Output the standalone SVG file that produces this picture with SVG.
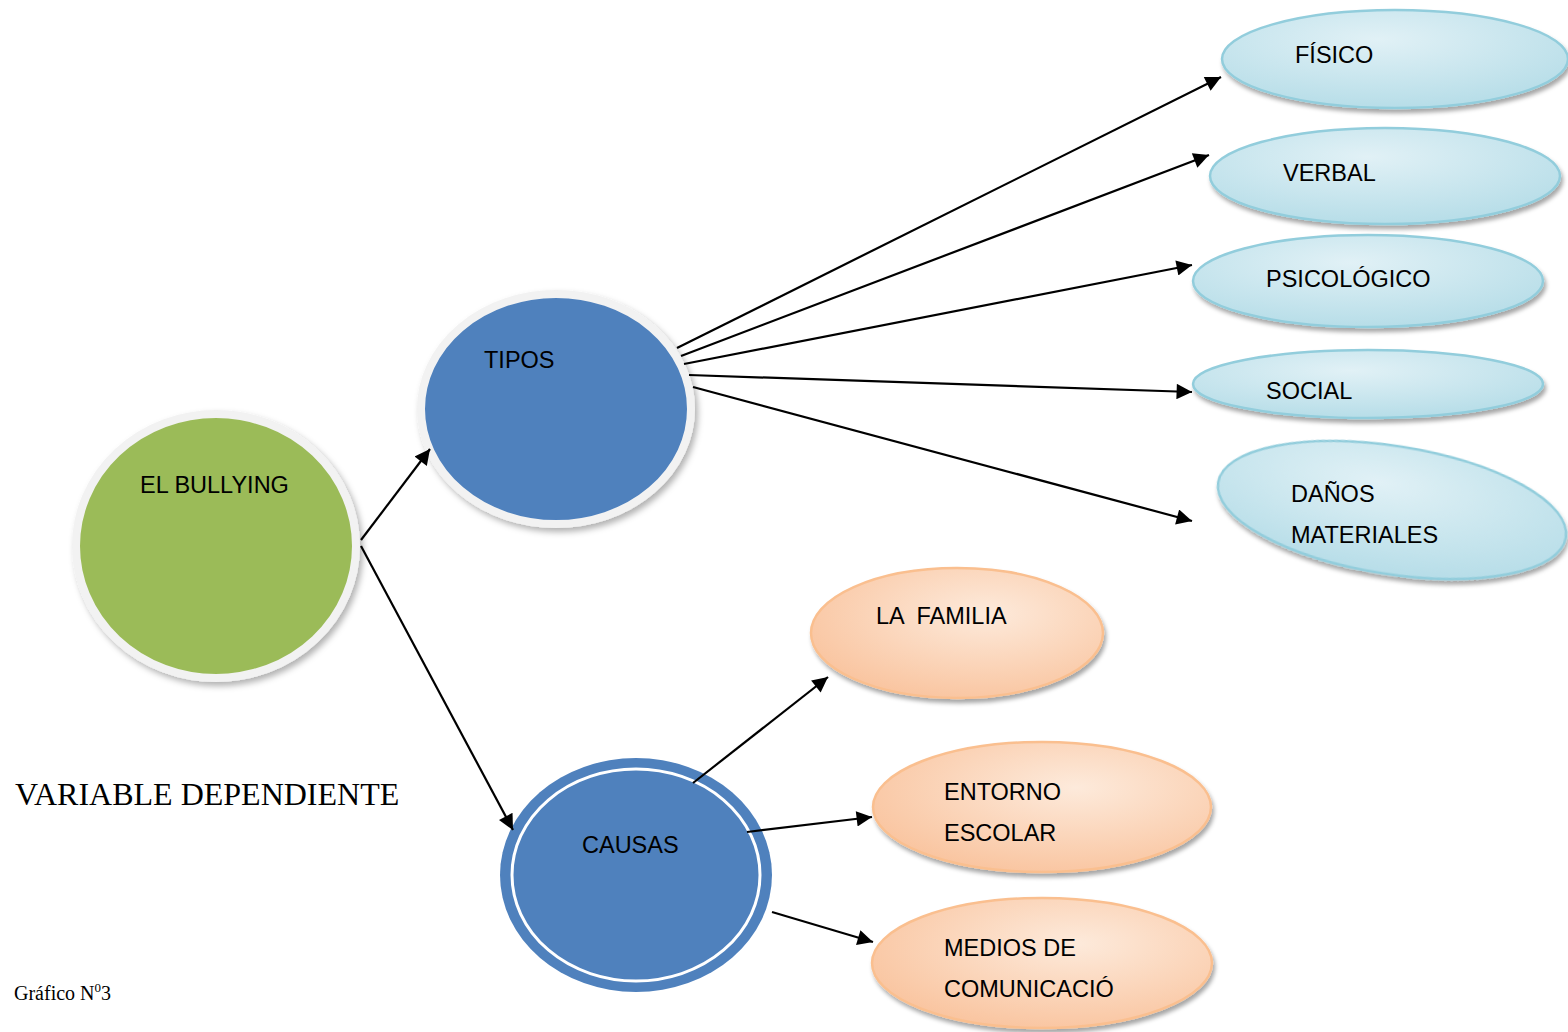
<svg xmlns="http://www.w3.org/2000/svg" width="1568" height="1032" viewBox="0 0 1568 1032">
<style>
.lbl{font-family:"Liberation Sans",Arial,sans-serif;font-size:23.5px;fill:#000}
.conn line{stroke:#000;stroke-width:2.2;marker-end:url(#ah)}
.blue{fill:url(#gBlue);stroke:#92cddc;stroke-width:2.5;filter:url(#sh)}
.orange{fill:url(#gOr);stroke:#fabf8f;stroke-width:2.5;filter:url(#sh)}
</style>
<defs>
<marker id="ah" viewBox="0 0 10 10" refX="10" refY="5" markerWidth="8" markerHeight="7" markerUnits="strokeWidth" orient="auto">
<path d="M0,0 L10,5 L0,10 z" fill="#000"/>
</marker>
<radialGradient id="gBlue" cx="0.45" cy="0.3" r="0.75">
<stop offset="0" stop-color="#e1f1f6"/>
<stop offset="1" stop-color="#b4dce7"/>
</radialGradient>
<radialGradient id="gOr" cx="0.6" cy="0.35" r="0.75">
<stop offset="0" stop-color="#fdeadb"/>
<stop offset="1" stop-color="#f9c19a"/>
</radialGradient>
<filter id="sh" x="-10%" y="-10%" width="125%" height="135%">
<feDropShadow dx="2" dy="4" stdDeviation="2" flood-color="#000" flood-opacity="0.35"/>
</filter>
<filter id="sh2" x="-10%" y="-10%" width="125%" height="130%">
<feDropShadow dx="3" dy="4" stdDeviation="3" flood-color="#000" flood-opacity="0.3"/>
</filter>
</defs>
<rect width="1568" height="1032" fill="#fff"/>

<g id="n-bullying">
<ellipse cx="216" cy="546" rx="140" ry="132" fill="#9bbb59" stroke="#f2f2f2" stroke-width="8" filter="url(#sh2)"/>
<text class="lbl" x="140" y="493">EL BULLYING</text>
</g>

<g id="n-tipos">
<ellipse cx="556" cy="409" rx="135" ry="115" fill="#4f81bd" stroke="#f2f2f2" stroke-width="8" filter="url(#sh2)"/>
<text class="lbl" x="484" y="368">TIPOS</text>
</g>

<g id="n-causas">
<ellipse cx="636" cy="875" rx="136" ry="117" fill="#4f81bd"/>
<ellipse cx="636" cy="875" rx="124" ry="106" fill="none" stroke="#fff" stroke-width="3"/>
<text class="lbl" x="582" y="853">CAUSAS</text>
</g>

<g id="n-fisico">
<ellipse class="blue" cx="1395" cy="59" rx="173" ry="49"/>
<text class="lbl" x="1295" y="63">FÍSICO</text>
</g>
<g id="n-verbal">
<ellipse class="blue" cx="1385" cy="176" rx="175" ry="48"/>
<text class="lbl" x="1283" y="181">VERBAL</text>
</g>
<g id="n-psico">
<ellipse class="blue" cx="1368" cy="281" rx="175" ry="46"/>
<text class="lbl" x="1266" y="287">PSICOLÓGICO</text>
</g>
<g id="n-social">
<ellipse class="blue" cx="1368" cy="384" rx="175" ry="34"/>
<text class="lbl" x="1266" y="399">SOCIAL</text>
</g>
<g id="n-danos">
<ellipse class="blue" cx="1392" cy="510" rx="176" ry="64" transform="rotate(9 1392 510)"/>
<text class="lbl" x="1291" y="502">DAÑOS</text>
<text class="lbl" x="1291" y="543">MATERIALES</text>
</g>

<g id="n-familia">
<ellipse class="orange" cx="957" cy="633" rx="146" ry="65"/>
<text class="lbl" x="876" y="624" xml:space="preserve">LA  FAMILIA</text>
</g>
<g id="n-entorno">
<ellipse class="orange" cx="1042" cy="807" rx="169" ry="65"/>
<text class="lbl" x="944" y="800">ENTORNO</text>
<text class="lbl" x="944" y="841">ESCOLAR</text>
</g>
<g id="n-medios">
<ellipse class="orange" cx="1042" cy="963" rx="170" ry="65"/>
<text class="lbl" x="944" y="956">MEDIOS DE</text>
<text class="lbl" x="944" y="997">COMUNICACIÓ</text>
</g>

<g id="conn" class="conn">
<line x1="361" y1="540" x2="430" y2="449"/>
<line x1="361" y1="546" x2="513" y2="830"/>
<line x1="677" y1="348" x2="1221" y2="77"/>
<line x1="681" y1="356" x2="1209" y2="155"/>
<line x1="684" y1="364" x2="1192" y2="265"/>
<line x1="689" y1="375" x2="1192" y2="392"/>
<line x1="693" y1="387" x2="1192" y2="521"/>
<line x1="693" y1="783" x2="828" y2="677"/>
<line x1="747" y1="832" x2="872" y2="817"/>
<line x1="772" y1="912" x2="873" y2="942"/>
</g>

<text x="15" y="805" font-family="'Liberation Serif','Times New Roman',serif" font-size="32">VARIABLE DEPENDIENTE</text>
<text x="14" y="1000" font-family="'Liberation Serif','Times New Roman',serif" font-size="20">Gráfico N<tspan font-size="13" dy="-8">0</tspan><tspan dy="8">3</tspan></text>
</svg>
